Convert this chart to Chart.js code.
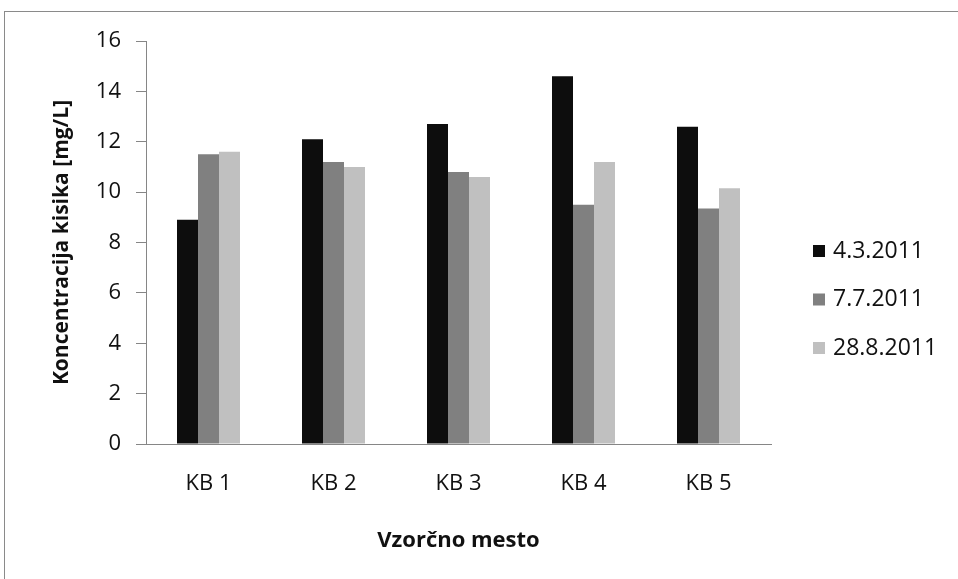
<!DOCTYPE html>
<html>
<head>
<meta charset="utf-8">
<script src="https://cdn.jsdelivr.net/npm/chart.js@4/dist/chart.umd.min.js"></script>
<style>
  html, body { margin: 0; padding: 0; background: #ffffff; }
  #wrap { position: relative; width: 958px; height: 579px; }
</style>
</head>
<body>
<div id="wrap"><canvas id="chart" width="958" height="579"></canvas></div>
<script>
// Sampling sites and dissolved oxygen concentration per sampling date
const categories = ['KB 1', 'KB 2', 'KB 3', 'KB 4', 'KB 5'];
const seriesNames = ['4.3.2011', '7.7.2011', '28.8.2011'];
const march = [8.9, 12.1, 12.7, 14.6, 12.6];
const july = [11.5, 11.2, 10.8, 9.5, 9.35];
const august = [11.6, 11.0, 10.6, 11.2, 10.15];
const yTicks = [0, 2, 4, 6, 8, 10, 12, 14, 16];

const seriesColors = ['#0d0d0d', '#808080', '#c0c0c0'];
const axisColor = '#868686';
const textColor = '#111111';
const fontFamily = '"Open Sans", "Noto Sans", sans-serif';

// Frame around the chart and a right-hand legend with square markers
const framePlugin = {
  id: 'frame',
  beforeDraw(chart) {
    const ctx = chart.ctx;
    ctx.save();
    ctx.fillStyle = '#ffffff';
    ctx.fillRect(0, 0, chart.width, chart.height);
    ctx.fillStyle = '#8a8a8a';
    ctx.fillRect(4, 11, chart.width - 4, 1);
    ctx.fillRect(4, 11, 1, chart.height - 11);
    ctx.restore();
  }
};

const sideLegend = {
  id: 'sideLegend',
  afterDraw(chart) {
    const ctx = chart.ctx;
    ctx.save();
    ctx.font = '23px ' + fontFamily;
    ctx.textBaseline = 'middle';
    ctx.textAlign = 'left';
    chart.data.datasets.forEach((ds, i) => {
      const cy = 251 + i * 48.5;
      ctx.fillStyle = ds.backgroundColor;
      ctx.fillRect(813, cy - 6, 12, 12);
      ctx.fillStyle = textColor;
      ctx.fillText(ds.label, 833, cy);
    });
    ctx.restore();
  }
};

const datasets = [march, july, august].map((values, i) => ({
  label: seriesNames[i],
  data: values,
  backgroundColor: seriesColors[i],
  borderWidth: 0,
  categoryPercentage: 0.504,
  barPercentage: 1.0
}));

new Chart(document.getElementById('chart'), {
  type: 'bar',
  data: { labels: categories, datasets },
  plugins: [framePlugin, sideLegend],
  options: {
    responsive: false,
    animation: false,
    events: [],
    layout: { padding: { left: 0, top: 41, right: 187, bottom: 0 } },
    plugins: {
      legend: { display: false },
      tooltip: { enabled: false },
      title: { display: false }
    },
    scales: {
      x: {
        afterFit(scale) { scale.height = 135; },
        grid: { display: false, drawTicks: false },
        border: { display: true, color: axisColor, width: 1 },
        ticks: {
          color: textColor,
          font: { family: fontFamily, size: 22 },
          padding: 27,
          maxRotation: 0
        },
        title: {
          display: true,
          text: 'Vzorčno mesto',
          color: textColor,
          font: { family: fontFamily, size: 22, weight: 'bold' },
          padding: { top: 0, bottom: 25 }
        }
      },
      y: {
        min: 0,
        max: 16,
        afterFit(scale) { scale.width = 146; },
        afterBuildTicks(scale) { scale.ticks = yTicks.map(v => ({ value: v })); },
        grid: {
          display: true,
          drawOnChartArea: false,
          drawTicks: true,
          tickLength: 10,
          color: axisColor
        },
        border: { display: true, color: axisColor, width: 1 },
        ticks: {
          color: textColor,
          font: { family: fontFamily, size: 22 },
          padding: 15
        },
        title: {
          display: true,
          text: 'Koncentracija kisika [mg/L]',
          color: textColor,
          font: { family: fontFamily, size: 21, weight: 'bold' },
          padding: { top: 49, bottom: 0 }
        }
      }
    }
  }
});
</script>
</body>
</html>
